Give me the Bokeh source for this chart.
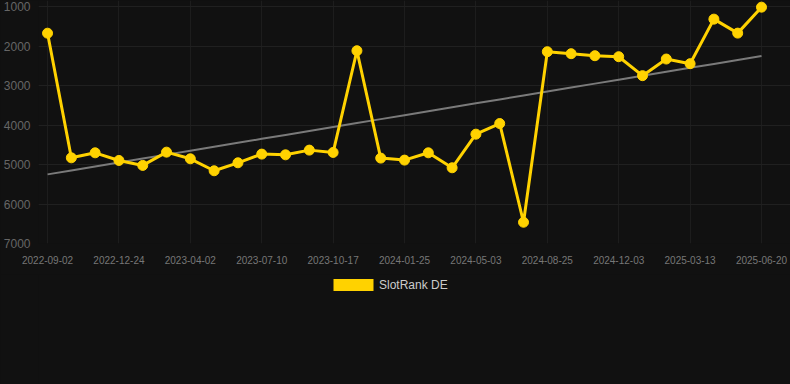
from bokeh.plotting import figure
from bokeh.layouts import column
from bokeh.models import Range1d, Legend, LegendItem, FixedTicker, ColumnDataSource
from bokeh.embed import file_html
from bokeh.resources import INLINE
import numpy as np

dates = ["2022-09-02", "", "", "2022-12-24", "", "", "2023-04-02", "", "", "2023-07-10", "", "",
         "2023-10-17", "", "", "2024-01-25", "", "", "2024-05-03", "", "", "2024-08-25", "", "",
         "2024-12-03", "", "", "2025-03-13", "", "", "2025-06-20"]
rank = [1676, 4831, 4704, 4898, 5023, 4687, 4856, 5159, 4957, 4737, 4755, 4636, 4695, 2120, 4838,
        4889, 4704, 5083, 4232, 3963, 6462, 2145, 2195, 2246, 2271, 2751, 2330, 2448, 1320, 1674, 1017]
y_ticks = [1000, 2000, 3000, 4000, 5000, 6000, 7000]
series_name = "SlotRank DE"

idx = list(range(len(rank)))
coef = np.polyfit(idx, rank, 1)
trend = [float(np.polyval(coef, i)) for i in idx]

BG = "#111111"
GOLD = "#FFD200"
FONT = "Liberation Sans"
# frame spans the full top of the figure so markers near 1000 are not clipped
chart = figure(width=790, height=274, output_backend="svg", toolbar_location=None,
               x_range=Range1d(-0.38, 30 + 29 / 23.8), y_range=Range1d(7000, 1000 - 6 * 6000 / 237),
               background_fill_color=BG, border_fill_color=BG, outline_line_color=None,
               min_border_left=38, min_border_right=0, min_border_top=0, min_border_bottom=31,
               styles={"background-color": BG})

src = ColumnDataSource(dict(x=idx, y=rank, t=trend))
chart.line("x", "t", source=src, line_color="#7a7a7a", line_width=2)
chart.line("x", "y", source=src, line_color=GOLD, line_width=3)
chart.scatter("x", "y", source=src, size=10, fill_color=GOLD, line_color=GOLD)

tick_pos = [i for i, d in enumerate(dates) if d]
chart.xaxis.ticker = FixedTicker(ticks=tick_pos)
chart.xaxis.major_label_overrides = {i: dates[i] for i in tick_pos}
chart.yaxis.ticker = FixedTicker(ticks=y_ticks)

for ax in (chart.xaxis, chart.yaxis):
    ax.axis_line_color = None
    ax.major_tick_line_color = None
    ax.minor_tick_line_color = None
    ax.major_label_text_font = FONT
chart.xaxis.major_label_text_color = "#777777"
chart.xaxis.major_label_text_font_size = "10px"
chart.xaxis.major_label_standoff = 6
chart.yaxis.major_label_text_color = "#666666"
chart.yaxis.major_label_text_font_size = "12px"
chart.yaxis.major_label_standoff = 2

chart.xgrid.grid_line_color = "#1d1d1d"
chart.ygrid.grid_line_color = "#202020"
chart.xgrid.ticker = FixedTicker(ticks=tick_pos)

# legend strip below the chart
leg = figure(width=790, height=110, output_backend="svg", toolbar_location=None,
             x_range=Range1d(0, 1), y_range=Range1d(0, 1),
             background_fill_color=BG, border_fill_color=BG, outline_line_color=None,
             min_border_left=38, min_border_right=0, min_border_top=0, min_border_bottom=0,
             styles={"background-color": BG})
leg.axis.visible = False
leg.grid.visible = False
dummy = leg.rect(x=[-5], y=[-5], width=1, height=1, fill_color=GOLD, line_color=None)
legend = Legend(items=[LegendItem(label=series_name, renderers=[dummy])],
                location=(290, 92), orientation="horizontal",
                background_fill_alpha=0, border_line_color=None,
                padding=0, margin=0, glyph_width=50, glyph_height=15,
                label_height=15, label_standoff=1,
                label_text_color="#cccccc", label_text_font_size="12px",
                label_text_font=FONT)
leg.add_layout(legend, "center")

p = column(chart, leg, spacing=0,
           styles={"position": "absolute", "top": "0px", "left": "0px", "background-color": BG})

open("out.html", "w").write(file_html(p, INLINE))
